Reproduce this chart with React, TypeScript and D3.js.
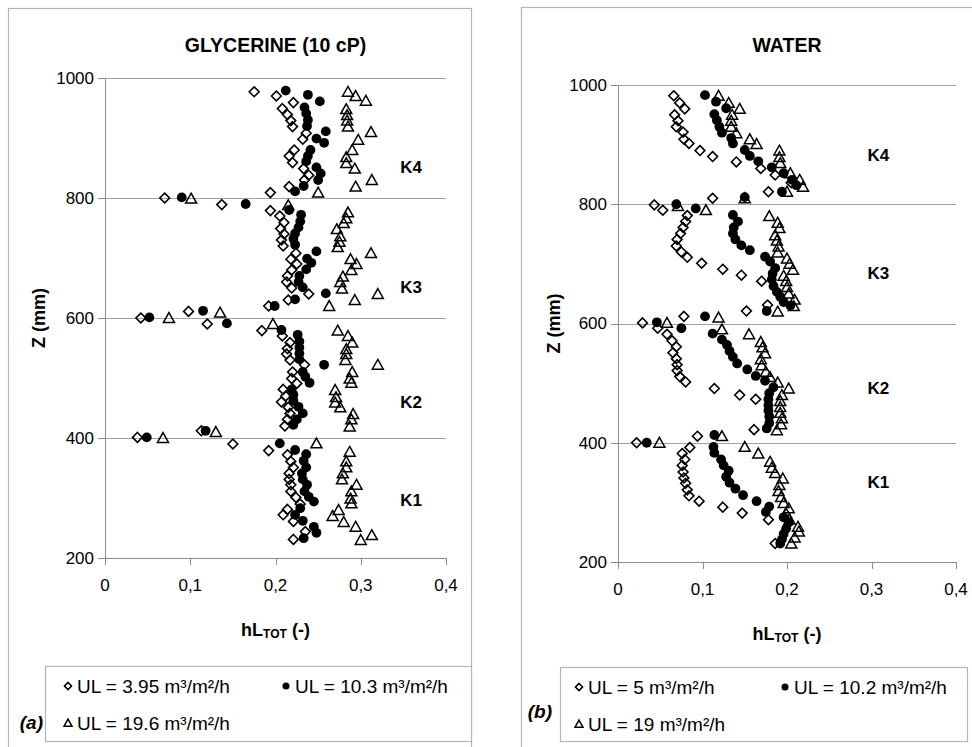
import React from 'react';
import * as d3 from 'd3';

type Pt = [number, number];

const xTicks = [0, 0.1, 0.2, 0.3, 0.4];
const xTickLabels = ['0', '0,1', '0,2', '0,3', '0,4'];
const zTicks = [200, 400, 600, 800, 1000];
const sectionNames = ['K1', 'K2', 'K3', 'K4'];
const glySectionZ = [297, 460, 652, 852];
const watSectionZ = [334, 492, 685, 883];

// GLYCERINE (10 cP): hL_TOT vs Z
const glyUL395: Pt[] = [
  [0.175,977],[0.201,970],[0.221,959],[0.208,949],[0.214,939],[0.218,929],[0.220,919],[0.236,908],[0.232,898],[0.222,880],[0.216,870],[0.220,859],[0.233,849],[0.239,838],[0.234,830],[0.216,819],[0.194,809],[0.070,800],[0.137,789],
  [0.194,779],[0.205,770],[0.210,759],[0.206,749],[0.210,740],[0.207,730],[0.209,720],[0.224,708],[0.218,698],[0.225,690],[0.219,680],[0.214,670],[0.213,660],[0.219,650],[0.239,640],[0.215,630],[0.192,620],[0.098,611],[0.042,600],[0.120,590],
  [0.184,579],[0.208,570],[0.217,559],[0.214,549],[0.213,540],[0.217,530],[0.234,522],[0.220,510],[0.219,499],[0.225,491],[0.209,481],[0.212,470],[0.207,460],[0.215,451],[0.217,441],[0.214,431],[0.211,420],[0.113,412],[0.038,401],[0.150,390],
  [0.192,379],[0.214,372],[0.218,361],[0.221,351],[0.216,341],[0.216,331],[0.218,322],[0.218,311],[0.224,301],[0.229,290],[0.214,281],[0.209,272],[0.221,261],[0.235,244],[0.221,231],
];
const glyUL103: Pt[] = [
  [0.212,979],[0.238,972],[0.252,961],[0.234,951],[0.236,941],[0.238,930],[0.237,920],[0.259,911],[0.248,899],[0.257,892],[0.241,880],[0.238,870],[0.236,861],[0.248,851],[0.253,841],[0.250,830],[0.233,820],[0.223,811],[0.090,801],[0.165,790],
  [0.216,780],[0.230,772],[0.229,761],[0.227,751],[0.223,741],[0.221,732],[0.223,722],[0.248,711],[0.237,699],[0.242,692],[0.236,681],[0.228,670],[0.227,660],[0.232,651],[0.259,641],[0.223,631],[0.199,620],[0.115,612],[0.052,601],[0.143,591],
  [0.207,580],[0.226,572],[0.228,561],[0.228,551],[0.228,541],[0.228,531],[0.257,522],[0.232,510],[0.235,502],[0.240,492],[0.219,481],[0.221,472],[0.221,462],[0.227,452],[0.232,441],[0.225,431],[0.221,422],[0.118,412],[0.049,401],[0.205,391],
  [0.223,380],[0.236,373],[0.233,362],[0.236,351],[0.231,341],[0.232,331],[0.237,322],[0.234,311],[0.239,302],[0.245,294],[0.229,283],[0.223,272],[0.232,262],[0.245,252],[0.248,242],[0.233,233],
];
const glyUL196: Pt[] = [
  [0.285,977],[0.294,970],[0.306,962],[0.283,948],[0.284,938],[0.284,929],[0.285,919],[0.312,910],[0.297,897],[0.290,880],[0.283,868],[0.283,858],[0.293,849],[0.313,830],[0.294,819],[0.250,809],[0.101,799],[0.215,788],
  [0.285,776],[0.283,766],[0.280,758],[0.272,748],[0.276,736],[0.275,727],[0.273,718],[0.312,708],[0.288,698],[0.295,690],[0.289,680],[0.279,669],[0.276,660],[0.278,649],[0.320,640],[0.293,630],[0.263,620],[0.135,609],[0.075,600],[0.197,590],
  [0.273,579],[0.285,570],[0.290,559],[0.283,548],[0.283,540],[0.282,530],[0.320,522],[0.290,510],[0.287,499],[0.289,492],[0.270,480],[0.271,468],[0.270,459],[0.276,451],[0.291,440],[0.289,431],[0.287,419],[0.130,410],[0.068,400],[0.248,391],
  [0.287,377],[0.283,361],[0.283,351],[0.279,341],[0.278,331],[0.295,322],[0.289,311],[0.288,299],[0.289,291],[0.274,280],[0.267,270],[0.280,260],[0.294,252],[0.313,238],[0.300,230],
];

// WATER: hL_TOT vs Z
const watUL5: Pt[] = [
  [0.066,982],[0.073,970],[0.079,960],[0.067,950],[0.071,940],[0.069,930],[0.077,921],[0.078,909],[0.084,902],[0.097,890],[0.112,880],[0.140,871],[0.169,860],[0.186,849],[0.205,836],[0.178,821],[0.112,810],[0.043,799],[0.053,790],
  [0.082,781],[0.080,771],[0.077,761],[0.074,751],[0.070,741],[0.069,730],[0.075,720],[0.082,711],[0.099,701],[0.124,691],[0.146,681],[0.170,671],[0.177,631],[0.152,621],[0.078,612],[0.029,601],[0.047,592],
  [0.058,582],[0.064,571],[0.069,561],[0.065,551],[0.069,541],[0.070,531],[0.070,521],[0.073,511],[0.080,502],[0.114,491],[0.144,480],[0.163,473],[0.161,422],[0.094,411],[0.022,400],[0.085,392],
  [0.076,382],[0.079,372],[0.076,362],[0.077,351],[0.078,341],[0.080,332],[0.082,321],[0.084,311],[0.096,302],[0.124,292],[0.147,282],[0.178,271],[0.186,231],
];
const watUL102: Pt[] = [
  [0.103,983],[0.116,972],[0.128,961],[0.114,951],[0.117,941],[0.120,930],[0.123,920],[0.134,911],[0.136,902],[0.150,891],[0.156,881],[0.166,872],[0.182,862],[0.196,852],[0.206,841],[0.211,832],[0.194,821],[0.150,812],[0.069,800],[0.092,793],
  [0.136,782],[0.142,771],[0.137,761],[0.136,751],[0.139,741],[0.146,731],[0.156,723],[0.174,712],[0.180,704],[0.186,693],[0.183,684],[0.182,674],[0.184,663],[0.188,653],[0.192,645],[0.196,636],[0.204,630],[0.176,621],[0.103,612],[0.046,602],[0.075,592],
  [0.112,583],[0.123,573],[0.129,564],[0.132,554],[0.136,544],[0.141,533],[0.153,523],[0.163,512],[0.174,504],[0.184,493],[0.179,483],[0.178,473],[0.178,463],[0.178,454],[0.179,444],[0.179,433],[0.176,424],[0.114,413],[0.034,400],[0.113,393],
  [0.114,383],[0.122,372],[0.125,362],[0.131,353],[0.128,343],[0.132,333],[0.139,323],[0.148,312],[0.164,302],[0.179,293],[0.175,284],[0.196,275],[0.202,266],[0.199,256],[0.196,247],[0.194,238],[0.192,231],
];
const watUL19: Pt[] = [
  [0.119,982],[0.131,970],[0.144,960],[0.135,950],[0.134,940],[0.134,930],[0.140,919],[0.156,909],[0.164,901],[0.191,890],[0.191,879],[0.192,869],[0.204,852],[0.215,841],[0.219,829],[0.200,821],[0.150,810],[0.071,797],[0.104,790],
  [0.179,780],[0.189,769],[0.191,760],[0.186,748],[0.188,739],[0.190,729],[0.189,719],[0.200,709],[0.203,700],[0.207,690],[0.196,680],[0.199,671],[0.200,661],[0.202,650],[0.209,640],[0.208,629],[0.189,620],[0.119,610],[0.058,601],[0.123,590],
  [0.155,582],[0.169,569],[0.171,560],[0.174,550],[0.169,540],[0.170,530],[0.175,519],[0.180,510],[0.189,501],[0.202,491],[0.194,480],[0.192,470],[0.192,460],[0.192,450],[0.194,441],[0.193,431],[0.188,421],[0.123,411],[0.049,400],[0.150,393],
  [0.166,382],[0.180,368],[0.182,358],[0.186,349],[0.195,340],[0.191,329],[0.190,319],[0.193,309],[0.196,299],[0.202,290],[0.199,281],[0.203,271],[0.213,259],[0.214,251],[0.209,241],[0.205,231],
];

const glyLegend = ['UL = 3.95 m³/m²/h', 'UL = 10.3 m³/m²/h', 'UL = 19.6 m³/m²/h'];
const watLegend = ['UL = 5 m³/m²/h', 'UL = 10.2 m³/m²/h', 'UL = 19 m³/m²/h'];

const FONT = '"Liberation Sans", Arial, Helvetica, sans-serif';
type Kind = 'diamond' | 'circle' | 'triangle';
const kinds: Kind[] = ['diamond', 'circle', 'triangle'];

function Marker({ kind, x, y, s = 1 }: { kind: Kind; x: number; y: number; s?: number }) {
  if (kind === 'diamond') {
    const r = 4.9 * s;
    return <path d={`M${x},${y - r}L${x + r},${y}L${x},${y + r}L${x - r},${y}Z`} fill="none" stroke="#000" strokeWidth={1.6} />;
  }
  if (kind === 'circle') return <circle cx={x} cy={y} r={4.9 * s} fill="#000" />;
  const w = 5.5 * s, h = 9.8 * s;
  return <path d={`M${x},${y - h * 0.55}L${x + w},${y + h * 0.45}L${x - w},${y + h * 0.45}Z`} fill="none" stroke="#000" strokeWidth={1.5} strokeLinejoin="miter" />;
}

interface PanelCfg {
  frame: { x: number; y: number; w: number; h: number };
  plot: { l: number; r: number; t: number; b: number };
  title: string;
  titleY: number;
  series: Pt[][];
  sectionZ: number[];
  sectionX: number;
  legend: string[];
  legendBox: { x: number; y: number; w: number; h: number };
  legendCols: [number, number];
  tag: string;
  tagX: number;
  tagY: number;
  yTitleX: number;
}

function Panel({ c }: { c: PanelCfg }) {
  const x = d3.scaleLinear().domain([0, 0.4]).range([c.plot.l, c.plot.r]);
  const y = d3.scaleLinear().domain([200, 1000]).range([c.plot.b, c.plot.t]);
  const cx = (c.plot.l + c.plot.r) / 2;
  const cy = (c.plot.t + c.plot.b) / 2;
  const row1 = c.legendBox.y + 20;
  const row2 = c.legendBox.y + 57;
  return (
    <g fontFamily={FONT}>
      <rect x={c.frame.x + 0.5} y={c.frame.y + 0.5} width={c.frame.w} height={c.frame.h} fill="#fff" stroke="#b4b4b4" strokeWidth={1.2} />
      <text x={cx} y={c.titleY} textAnchor="middle" fontWeight="bold" fontSize={19.5}>{c.title}</text>
      {zTicks.slice(1).map((z) => (
        <line key={z} x1={c.plot.l} x2={c.plot.r} y1={Math.round(y(z)) + 0.5} y2={Math.round(y(z)) + 0.5} stroke="#a0a0a0" strokeWidth={1} />
      ))}
      <line x1={c.plot.l + 0.5} x2={c.plot.l + 0.5} y1={y(1000)} y2={y(200)} stroke="#8c8c8c" />
      <line x1={c.plot.l} x2={c.plot.r} y1={Math.round(y(200)) + 0.5} y2={Math.round(y(200)) + 0.5} stroke="#8c8c8c" />
      {zTicks.map((z) => (
        <g key={z}>
          <line x1={c.plot.l - 7} x2={c.plot.l} y1={Math.round(y(z)) + 0.5} y2={Math.round(y(z)) + 0.5} stroke="#8c8c8c" />
          <text x={c.plot.l - 11} y={y(z)} dy="0.35em" textAnchor="end" fontSize={17}>{z}</text>
        </g>
      ))}
      {xTicks.map((t, i) => (
        <g key={t}>
          <line x1={Math.round(x(t)) + 0.5} x2={Math.round(x(t)) + 0.5} y1={y(200)} y2={y(200) + 7} stroke="#8c8c8c" />
          <text x={x(t)} y={c.plot.b + 33} textAnchor="middle" fontSize={17}>{xTickLabels[i]}</text>
        </g>
      ))}
      <text x={cx} y={c.plot.b + 78} textAnchor="middle" fontWeight="bold" fontSize={18}>
        hL<tspan fontSize={12} dy={2}>TOT</tspan><tspan dy={-2}> (-)</tspan>
      </text>
      <text transform={`translate(${c.yTitleX},${cy}) rotate(-90)`} textAnchor="middle" fontWeight="bold" fontSize={18}>Z (mm)</text>
      {sectionNames.map((k, i) => (
        <text key={k} x={x(c.sectionX)} y={y(c.sectionZ[i])} dy="0.35em" textAnchor="middle" fontWeight="bold" fontSize={17}>{k}</text>
      ))}
      {c.series.map((s, si) => (
        <g key={si}>
          {s.map((p, i) => <Marker key={i} kind={kinds[si]} x={x(p[0])} y={y(p[1])} />)}
        </g>
      ))}
      <rect x={c.legendBox.x + 0.5} y={c.legendBox.y + 0.5} width={c.legendBox.w} height={c.legendBox.h} fill="#fff" stroke="#b4b4b4" strokeWidth={1.2} />
      {[0, 1, 2].map((i) => {
        const lx = i === 1 ? c.legendCols[1] : c.legendCols[0];
        const ly = i === 2 ? row2 : row1;
        return (
          <g key={i}>
            <Marker kind={kinds[i]} x={lx} y={ly} s={0.72} />
            <text x={lx + 9} y={ly} dy="0.35em" fontSize={19}>{c.legend[i]}</text>
          </g>
        );
      })}
      <text x={c.tagX} y={c.tagY} textAnchor="end" fontWeight="bold" fontStyle="italic" fontSize={19}>{c.tag}</text>
    </g>
  );
}

const leftCfg: PanelCfg = {
  frame: { x: 8, y: 8, w: 463, h: 760 },
  plot: { l: 105, r: 446, t: 78, b: 558 },
  title: 'GLYCERINE (10 cP)',
  titleY: 52,
  series: [glyUL395, glyUL103, glyUL196],
  sectionZ: glySectionZ,
  sectionX: 0.359,
  legend: glyLegend,
  legendBox: { x: 45, y: 666, w: 426, h: 75 },
  legendCols: [68, 286],
  tag: '(a)',
  tagX: 43,
  tagY: 729,
  yTitleX: 45,
};

const rightCfg: PanelCfg = {
  frame: { x: 521, y: 7, w: 500, h: 760 },
  plot: { l: 618, r: 956, t: 85, b: 562 },
  title: 'WATER',
  titleY: 52,
  series: [watUL5, watUL102, watUL19],
  sectionZ: watSectionZ,
  sectionX: 0.308,
  legend: watLegend,
  legendBox: { x: 560, y: 667, w: 407, h: 74 },
  legendCols: [579, 785],
  tag: '(b)',
  tagX: 552,
  tagY: 718,
  yTitleX: 560,
};

export default function App() {
  return (
    <svg width={972} height={747} style={{ position: 'absolute', left: 0, top: 0, background: '#fff' }}>
      <rect width={972} height={747} fill="#fff" />
      <Panel c={leftCfg} />
      <Panel c={rightCfg} />
    </svg>
  );
}
